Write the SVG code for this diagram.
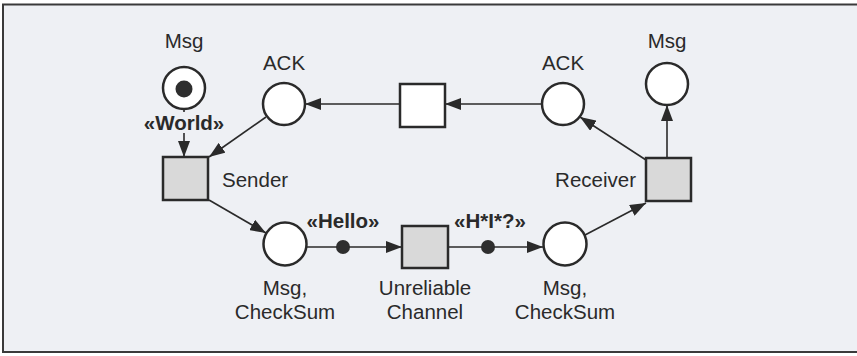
<svg xmlns="http://www.w3.org/2000/svg" width="857" height="356" viewBox="0 0 857 356">
<defs>
<marker id="ah" viewBox="0 0 16 12" refX="16" refY="6" markerWidth="16" markerHeight="12" markerUnits="userSpaceOnUse" orient="auto">
<path d="M0,0 L16,6 L0,12 z" fill="#2a2a2a"/>
</marker>
<style>
.place{fill:#ffffff;stroke:#2a2a2a;stroke-width:2.5}
.trans{fill:#d9d9d9;stroke:#2a2a2a;stroke-width:2.5}
.transw{fill:#ffffff;stroke:#2a2a2a;stroke-width:2.5}
.token{fill:#2e2e2e}
.arc{stroke:#2a2a2a;stroke-width:1.6;fill:none;marker-end:url(#ah)}
.stub{stroke:#2a2a2a;stroke-width:1.6;fill:none}
.lbl{font-family:"Liberation Sans",Arial,sans-serif;font-size:20.5px;fill:#2a2a2a}
.b{font-weight:bold}
</style>
</defs>
<rect x="0" y="0" width="857" height="356" fill="#ffffff"/>
<rect x="3" y="4.5" width="860" height="347.5" fill="#eef0f4" stroke="#3a3a3a" stroke-width="2"/>
<g id="connectors">
<line class="stub" x1="184" y1="109" x2="184" y2="112"/>
<line class="arc" x1="184" y1="133" x2="184" y2="157"/>
<line class="arc" x1="266" y1="117" x2="209" y2="157"/>
<line class="arc" x1="209" y1="200" x2="266" y2="233"/>
<line class="arc" x1="306" y1="247" x2="402" y2="247"/>
<line class="arc" x1="448" y1="247" x2="543" y2="247"/>
<line class="arc" x1="585" y1="235" x2="646" y2="203"/>
<line class="arc" x1="667" y1="158" x2="667" y2="105"/>
<line class="arc" x1="646" y1="160" x2="580" y2="117"/>
<line class="arc" x1="542" y1="104" x2="445" y2="104"/>
<line class="arc" x1="400" y1="104" x2="305" y2="104"/>
</g>
<g id="msg-left">
<circle class="place" cx="184" cy="88" r="21"/>
<circle class="token" cx="184" cy="89" r="8.5"/>
<text class="lbl" x="184" y="48" text-anchor="middle">Msg</text>
</g>
<g id="world-label">
<text class="lbl b" x="184" y="130" text-anchor="middle">«World»</text>
</g>
<g id="sender">
<rect class="trans" x="163" y="157" width="45" height="43"/>
<text class="lbl" x="222" y="187">Sender</text>
</g>
<g id="ack-left">
<circle class="place" cx="284" cy="104" r="21"/>
<text class="lbl" x="284" y="70" text-anchor="middle">ACK</text>
</g>
<g id="ack-transition">
<rect class="transw" x="400" y="84" width="45" height="43"/>
</g>
<g id="ack-right">
<circle class="place" cx="563" cy="104" r="21"/>
<text class="lbl" x="563" y="70" text-anchor="middle">ACK</text>
</g>
<g id="msg-right">
<circle class="place" cx="667" cy="84" r="21"/>
<text class="lbl" x="667" y="48" text-anchor="middle">Msg</text>
</g>
<g id="receiver">
<rect class="trans" x="646" y="158" width="45" height="43"/>
<text class="lbl" x="636" y="187" text-anchor="end">Receiver</text>
</g>
<g id="msg-checksum-left">
<circle class="place" cx="285" cy="244" r="21.5"/>
<text class="lbl" x="285" y="295" text-anchor="middle">Msg,</text>
<text class="lbl" x="285" y="319" text-anchor="middle">CheckSum</text>
</g>
<g id="hello-token">
<circle class="token" cx="343" cy="247" r="7"/>
<text class="lbl b" x="343" y="228" text-anchor="middle">«Hello»</text>
</g>
<g id="unreliable-channel">
<rect class="trans" x="402" y="226" width="46" height="42"/>
<text class="lbl" x="425" y="295" text-anchor="middle">Unreliable</text>
<text class="lbl" x="425" y="319" text-anchor="middle">Channel</text>
</g>
<g id="hi-token">
<circle class="token" cx="488" cy="247" r="7"/>
<text class="lbl b" x="490" y="228" text-anchor="middle">«H*I*?»</text>
</g>
<g id="msg-checksum-right">
<circle class="place" cx="565" cy="244" r="21.5"/>
<text class="lbl" x="565" y="295" text-anchor="middle">Msg,</text>
<text class="lbl" x="565" y="319" text-anchor="middle">CheckSum</text>
</g>
</svg>
